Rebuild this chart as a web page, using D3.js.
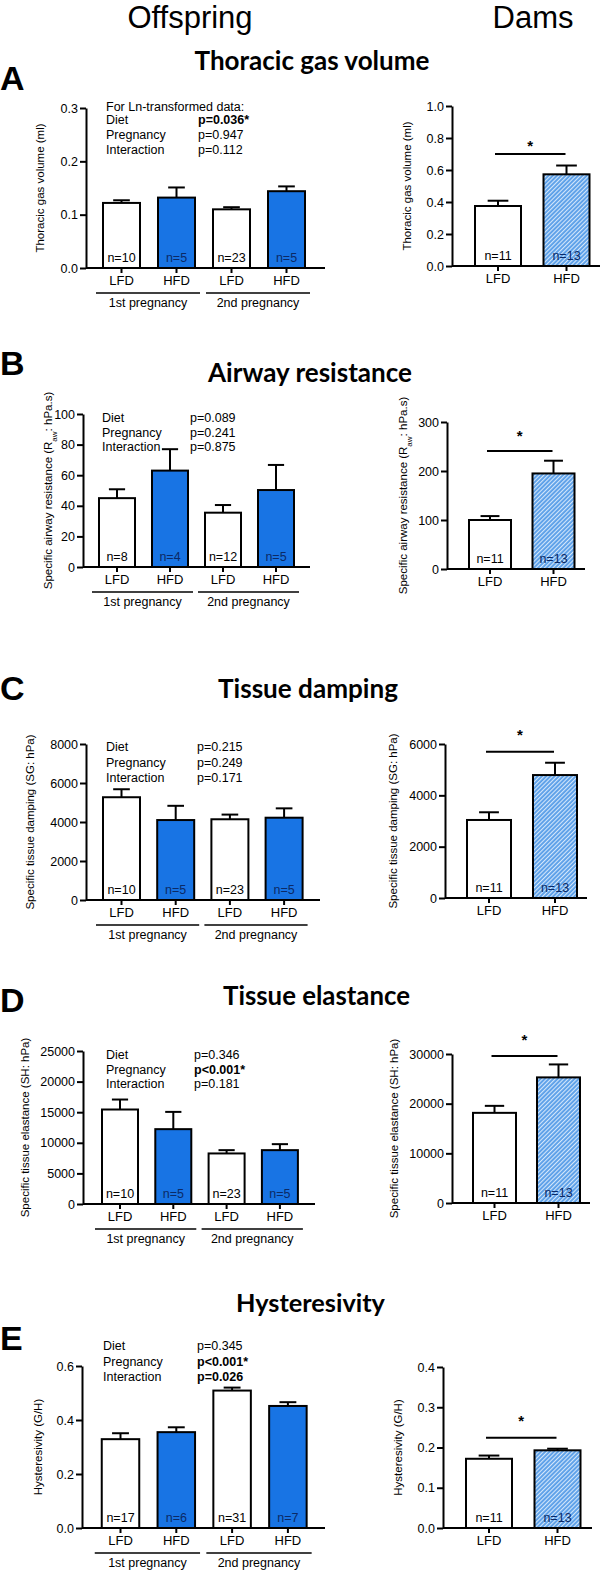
<!DOCTYPE html>
<html>
<head>
<meta charset="utf-8">
<script src="https://cdn.jsdelivr.net/npm/d3@7"></script>
<style>
  body { margin: 0; background: #fff; }
  svg { display: block; }
  svg text { font-family: Arial, "Liberation Sans", Helvetica, sans-serif; fill: #000; }
</style>
</head>
<body>
<svg width="602" height="1571"></svg>
<script>
// ---- data ----
const offspringGroups = ["LFD", "HFD", "LFD", "HFD"];
const pregnancies = ["1st pregnancy", "2nd pregnancy"];
const damGroups = ["LFD", "HFD"];
const columnTitles = ["Offspring", "Dams"];
const panelLetters = ["A", "B", "C", "D", "E"];
const panelTitles = ["Thoracic gas volume", "Airway resistance", "Tissue damping", "Tissue elastance", "Hysteresivity"];

// A - thoracic gas volume
const tgvOffMean = [0.122, 0.132, 0.110, 0.144];
const tgvOffSem = [0.005, 0.019, 0.004, 0.009];
const tgvOffN = [10, 5, 23, 5];
const tgvDamMean = [0.375, 0.573];
const tgvDamSem = [0.033, 0.055];
const tgvDamN = [11, 13];
const tgvOffTicks = [0, 0.1, 0.2, 0.3];
const tgvDamTicks = [0, 0.2, 0.4, 0.6, 0.8, 1.0];
const tgvSig = 0.70;
const tgvStats = [["For Ln-transformed data:", "", false], ["Diet", "p=0.036*", true], ["Pregnancy", "p=0.947", false], ["Interaction", "p=0.112", false]];

// B - airway resistance
const rawOffMean = [45, 63, 35.5, 50.3];
const rawOffSem = [5.8, 14, 5, 16.4];
const rawOffN = [8, 4, 12, 5];
const rawDamMean = [100, 195];
const rawDamSem = [8, 26];
const rawDamN = [11, 13];
const rawOffTicks = [0, 20, 40, 60, 80, 100];
const rawDamTicks = [0, 100, 200, 300];
const rawSig = 241;
const rawStats = [["Diet", "p=0.089", false], ["Pregnancy", "p=0.241", false], ["Interaction", "p=0.875", false]];

// C - tissue damping
const sgOffMean = [5270, 4100, 4140, 4220];
const sgOffSem = [410, 730, 240, 480];
const sgOffN = [10, 5, 23, 5];
const sgDamMean = [3040, 4790];
const sgDamSem = [300, 480];
const sgDamN = [11, 13];
const sgOffTicks = [0, 2000, 4000, 6000, 8000];
const sgDamTicks = [0, 2000, 4000, 6000];
const sgSig = 5700;
const sgStats = [["Diet", "p=0.215", false], ["Pregnancy", "p=0.249", false], ["Interaction", "p=0.171", false]];

// D - tissue elastance
const shOffMean = [15440, 12230, 8260, 8800];
const shOffSem = [1630, 2820, 540, 980];
const shOffN = [10, 5, 23, 5];
const shDamMean = [18150, 25290];
const shDamSem = [1410, 2610];
const shDamN = [11, 13];
const shOffTicks = [0, 5000, 10000, 15000, 20000, 25000];
const shDamTicks = [0, 10000, 20000, 30000];
const shSig = 29580;
const shStats = [["Diet", "p=0.346", false], ["Pregnancy", "p<0.001*", true], ["Interaction", "p=0.181", false]];

// E - hysteresivity
const etaOffMean = [0.329, 0.355, 0.509, 0.452];
const etaOffSem = [0.022, 0.018, 0.011, 0.014];
const etaOffN = [17, 6, 31, 7];
const etaDamMean = [0.172, 0.193];
const etaDamSem = [0.008, 0.004];
const etaDamN = [11, 13];
const etaOffTicks = [0, 0.2, 0.4, 0.6];
const etaDamTicks = [0, 0.1, 0.2, 0.3, 0.4];
const etaSig = 0.224;
const etaStats = [["Diet", "p=0.345", false], ["Pregnancy", "p<0.001*", true], ["Interaction", "p=0.026", true]];

const yLabels = [
  [["Thoracic gas volume (ml)"]],
  [["Specific airway resistance (R"], ["aw", "sub"], [": hPa.s)"]],
  [["Specific tissue damping (SG: hPa)"]],
  [["Specific tissue elastance (SH: hPa)"]],
  [["Hysteresivity (G/H)"]]
];

const fmt1 = d3.format(".1f");
const fmt0 = d3.format("d");

const panels = [
  { off: [tgvOffMean, tgvOffSem, tgvOffN, tgvOffTicks], dam: [tgvDamMean, tgvDamSem, tgvDamN, tgvDamTicks], sig: tgvSig, stats: tgvStats, fmt: fmt1 },
  { off: [rawOffMean, rawOffSem, rawOffN, rawOffTicks], dam: [rawDamMean, rawDamSem, rawDamN, rawDamTicks], sig: rawSig, stats: rawStats, fmt: fmt0 },
  { off: [sgOffMean, sgOffSem, sgOffN, sgOffTicks], dam: [sgDamMean, sgDamSem, sgDamN, sgDamTicks], sig: sgSig, stats: sgStats, fmt: fmt0 },
  { off: [shOffMean, shOffSem, shOffN, shOffTicks], dam: [shDamMean, shDamSem, shDamN, shDamTicks], sig: shSig, stats: shStats, fmt: fmt0 },
  { off: [etaOffMean, etaOffSem, etaOffN, etaOffTicks], dam: [etaDamMean, etaDamSem, etaDamN, etaDamTicks], sig: etaSig, stats: etaStats, fmt: fmt1 }
];

// ---- layout (pixels) ----
const layout = [
  { letterY: 90, titleX: 312, titleY: 70, titleW: 235,
    L: { ax: 86, y0: 268, y1: 108, xEnd: 325, c0: 121.5, step: 55, bw: 37, labX: 40 },
    R: { ax: 452, y0: 266, y1: 106, xEnd: 600, c0: 498, step: 68.5, bw: 46, labX: 407 },
    statX: 106, pX: 198, statY: [107, 119.5, 135, 150], starDy: 11 },
  { letterY: 375, titleX: 310, titleY: 382, titleW: 204,
    L: { ax: 83, y0: 567, y1: 414, xEnd: 310, c0: 117, step: 53, bw: 36, labX: 48 },
    R: { ax: 447, y0: 569, y1: 422, xEnd: 585, c0: 490, step: 63.5, bw: 42, labX: 403 },
    statX: 102, pX: 190, statY: [418, 433, 447], starDy: 18 },
  { letterY: 700, titleX: 308, titleY: 698, titleW: 180,
    L: { ax: 86, y0: 900, y1: 744, xEnd: 320, c0: 121.5, step: 54.2, bw: 37, labX: 30 },
    R: { ax: 445, y0: 898, y1: 744, xEnd: 587, c0: 489, step: 66, bw: 44, labX: 393 },
    statX: 106, pX: 197, statY: [747, 763, 778], starDy: 20 },
  { letterY: 1012, titleX: 316.5, titleY: 1005, titleW: 187,
    L: { ax: 83, y0: 1204, y1: 1051, xEnd: 315, c0: 120, step: 53.3, bw: 36, labX: 25 },
    R: { ax: 452, y0: 1203, y1: 1054, xEnd: 590, c0: 494.5, step: 64, bw: 43, labX: 394 },
    statX: 106, pX: 194, statY: [1055, 1070, 1084], starDy: 19 },
  { letterY: 1350, titleX: 310.5, titleY: 1312, titleW: 149,
    L: { ax: 82, y0: 1528, y1: 1366, xEnd: 325, c0: 120.5, step: 55.8, bw: 37.5, labX: 38 },
    R: { ax: 443, y0: 1528, y1: 1367, xEnd: 592, c0: 489, step: 68.5, bw: 46, labX: 398 },
    statX: 103, pX: 197, statY: [1346, 1362, 1377], starDy: 20 }
];

const BLUE = "#1874e4";
const NAVY = "#0b2a66";
const SANS = 'Arial, "Liberation Sans", Helvetica, sans-serif';

const svg = d3.select("svg");

// hatch for dams HFD
const pat = svg.append("defs").append("pattern")
  .attr("id", "hatch")
  .attr("patternUnits", "userSpaceOnUse")
  .attr("width", 3).attr("height", 3)
  .attr("patternTransform", "rotate(45)");
pat.append("rect").attr("width", 3).attr("height", 3).attr("fill", "#5a9fe8");
pat.append("rect").attr("width", 1.1).attr("height", 3).attr("fill", "#d4e7fb");

// column headings
svg.append("text").attr("x", 190).attr("y", 28).attr("text-anchor", "middle")
  .style("font-family", SANS).style("font-size", "31px").text(columnTitles[0]);
svg.append("text").attr("x", 533).attr("y", 28).attr("text-anchor", "middle")
  .style("font-family", SANS).style("font-size", "31px").text(columnTitles[1]);

function drawChart(lay, means, sems, ns, ticks, fmt, cats, fills, label, sigVal, starDy) {
  const n = means.length;
  const g = svg.append("g");
  const x = d3.scaleBand().domain(d3.range(n))
    .range([lay.c0 - lay.step / 2, lay.c0 - lay.step / 2 + n * lay.step])
    .paddingInner(1 - lay.bw / lay.step)
    .paddingOuter((1 - lay.bw / lay.step) / 2);
  const y = d3.scaleLinear().domain([0, ticks[ticks.length - 1]]).range([lay.y0, lay.y1]);
  const cx = i => x(i) + x.bandwidth() / 2;

  // error bars
  const capW = lay.bw * 0.45;
  means.forEach((m, i) => {
    g.append("line").attr("x1", cx(i)).attr("x2", cx(i))
      .attr("y1", y(m)).attr("y2", y(m + sems[i]))
      .attr("stroke", "#000").attr("stroke-width", 2);
    g.append("line").attr("x1", cx(i) - capW / 2).attr("x2", cx(i) + capW / 2)
      .attr("y1", y(m + sems[i])).attr("y2", y(m + sems[i]))
      .attr("stroke", "#000").attr("stroke-width", 2);
  });

  // bars
  g.selectAll("rect.bar").data(means).join("rect")
    .attr("class", "bar")
    .attr("x", (d, i) => x(i))
    .attr("y", d => y(d))
    .attr("width", x.bandwidth())
    .attr("height", d => lay.y0 - y(d))
    .attr("fill", (d, i) => fills[i])
    .attr("stroke", "#000").attr("stroke-width", 2);

  // n labels
  g.selectAll("text.n").data(ns).join("text")
    .attr("class", "n")
    .attr("x", (d, i) => cx(i))
    .attr("y", lay.y0 - 6)
    .attr("text-anchor", "middle")
    .style("font-family", SANS)
    .style("font-size", "12.5px")
    .style("fill", (d, i) => fills[i] === "#fff" ? "#000" : NAVY)
    .text(d => "n=" + d);

  // y axis
  const yAxis = g.append("g").attr("transform", `translate(${lay.ax},0)`)
    .call(d3.axisLeft(y).tickValues(ticks).tickFormat(fmt).tickSize(6).tickSizeOuter(0).tickPadding(2));
  yAxis.selectAll("path, line").attr("stroke", "#000").attr("stroke-width", 2);
  yAxis.selectAll("text").style("font-size", "12.5px").style("font-family", SANS).attr("fill", "#000");

  // x baseline and ticks
  g.append("line").attr("x1", lay.ax).attr("x2", lay.xEnd)
    .attr("y1", lay.y0).attr("y2", lay.y0)
    .attr("stroke", "#000").attr("stroke-width", 2);
  const xAxis = g.append("g").attr("transform", `translate(0,${lay.y0})`)
    .call(d3.axisBottom(x).tickFormat(i => cats[i]).tickSize(5).tickSizeOuter(0));
  xAxis.select(".domain").remove();
  xAxis.selectAll("line").attr("stroke", "#000").attr("stroke-width", 2);
  xAxis.selectAll("text").attr("y", 17).attr("dy", 0)
    .style("font-size", "13px").style("font-family", SANS).attr("fill", "#000");

  // y label
  const midY = (lay.y0 + lay.y1) / 2;
  const t = g.append("text")
    .attr("transform", `translate(${lay.labX},${midY}) rotate(-90)`)
    .attr("text-anchor", "middle").attr("dy", "0.35em")
    .style("font-family", SANS)
    .style("font-size", "11.5px");
  label.forEach(p => {
    const ts = t.append("tspan").text(p[0]);
    if (p[1] === "sub") ts.attr("baseline-shift", "sub").style("font-size", "8px");
  });

  // significance
  if (sigVal != null) {
    const sy = y(sigVal);
    g.append("line").attr("x1", cx(0) - 3).attr("x2", cx(1) - 1)
      .attr("y1", sy).attr("y2", sy)
      .attr("stroke", "#000").attr("stroke-width", 2);
    g.append("text").attr("x", (cx(0) + cx(1)) / 2 - 2).attr("y", sy - starDy + 8)
      .attr("text-anchor", "middle").style("font-family", SANS)
      .style("font-size", "15px").style("font-weight", "bold").text("*");
  }
  return { x, y, cx };
}

panels.forEach((p, k) => {
  const lay = layout[k];

  svg.append("text").attr("x", 0).attr("y", lay.letterY)
    .style("font-family", SANS)
    .style("font-size", "34px").style("font-weight", "bold").text(panelLetters[k]);

  const title = svg.append("text").attr("x", lay.titleX).attr("y", lay.titleY)
    .attr("text-anchor", "middle")
    .style("font-family", "Lato, 'Open Sans', sans-serif")
    .style("font-weight", "bold").style("font-size", "22px")
    .text(panelTitles[k]);
  const tw = title.node().getComputedTextLength();
  title.style("font-size", (22 * lay.titleW / tw).toFixed(2) + "px");

  // offspring
  const offFills = offspringGroups.map(d => d === "LFD" ? "#fff" : BLUE);
  const left = drawChart(lay.L, p.off[0], p.off[1], p.off[2], p.off[3], p.fmt,
    offspringGroups, offFills, yLabels[k], null, 0);

  // pregnancy group lines
  pregnancies.forEach((name, gi) => {
    const a = left.x(2 * gi) - 7;
    const b = left.x(2 * gi + 1) + left.x.bandwidth() + 5;
    svg.append("line").attr("x1", a).attr("x2", b)
      .attr("y1", lay.L.y0 + 25).attr("y2", lay.L.y0 + 25)
      .attr("stroke", "#000").attr("stroke-width", 1.5);
    svg.append("text").attr("x", (a + b) / 2).attr("y", lay.L.y0 + 39)
      .attr("text-anchor", "middle").style("font-family", SANS)
      .style("font-size", "12.5px").text(name);
  });

  // stats
  p.stats.forEach((s, i) => {
    const by = lay.statY[i] + 4.4;
    svg.append("text").attr("x", lay.statX).attr("y", by)
      .style("font-family", SANS).style("font-size", "12.5px").text(s[0]);
    if (s[1]) {
      svg.append("text").attr("x", lay.pX).attr("y", by)
        .style("font-family", SANS).style("font-size", "12.5px")
        .style("font-weight", s[2] ? "bold" : "normal").text(s[1]);
    }
  });

  // dams
  drawChart(lay.R, p.dam[0], p.dam[1], p.dam[2], p.dam[3], p.fmt,
    damGroups, ["#fff", "url(#hatch)"], yLabels[k], p.sig, lay.starDy);
});
</script>
</body>
</html>
